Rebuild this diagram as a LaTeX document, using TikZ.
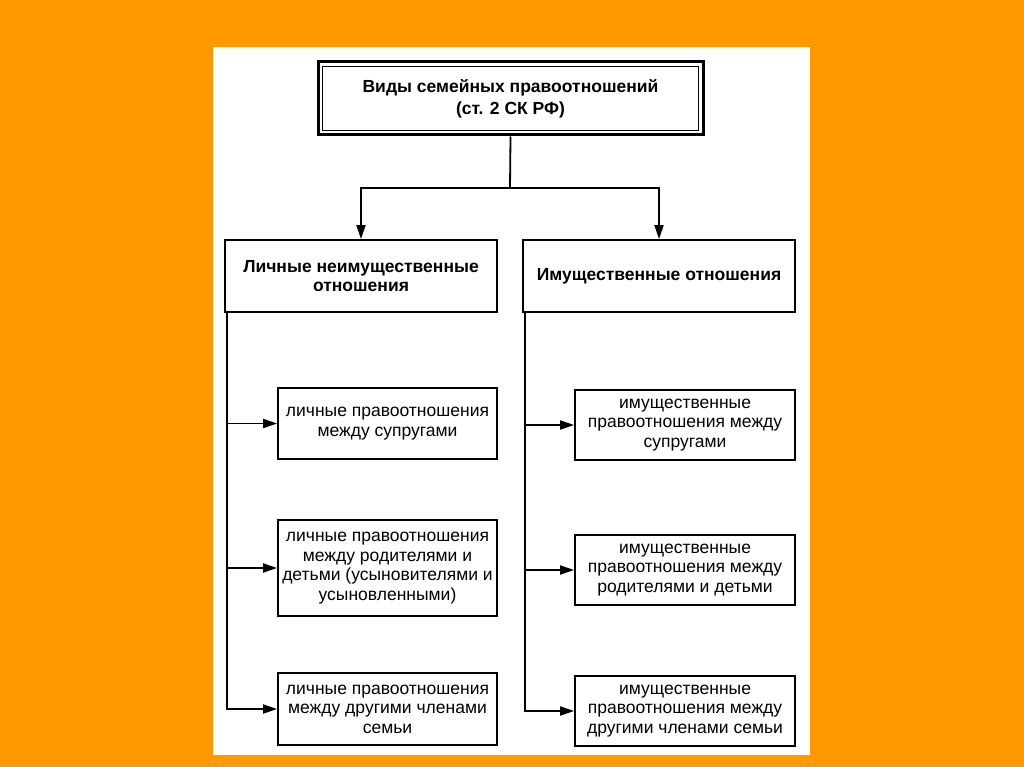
\documentclass[tikz,border=0pt]{standalone}
\usepackage{fontspec}
\setmainfont{Liberation Sans}
\usetikzlibrary{arrows.meta}
\definecolor{pageorange}{RGB}{254,153,0}
\tikzset{
  box/.style={draw, line width=1.8pt, align=center, inner sep=2pt,
    font=\fontsize{17.5}{19.5}\selectfont},
  headbox/.style={box, font=\bfseries\fontsize{17.5}{19}\selectfont},
  link/.style={line width=1.8pt}
}
\begin{document}
\begin{tikzpicture}[x=1pt, y=-1pt, >={Triangle[length=14pt,width=9pt]}]
            % page and white sheet
            \fill[pageorange] (0,0) rectangle (1024,767);
            \fill[white] (213,47) rectangle (810,755);
            % top box with double frame
            \node[headbox, font=\bfseries\fontsize{17.5}{22}\selectfont, line width=3pt,
              minimum width=385pt, minimum height=73pt] (top) at (510.5,98.5)
              {Виды семейных правоотношений\\(ст. 2 СК РФ)};
            \draw[line width=1.3pt] ([shift={(6pt,-6pt)}]top.north west) rectangle ([shift={(-6pt,6pt)}]top.south east);
            % two groups
            \node[headbox, minimum width=272pt, minimum height=72pt] (lft) at (361,276)
              {Личные неимущественные\\отношения};
            \node[headbox, minimum width=272pt, minimum height=72pt] (rgt) at (659,276)
              {Имущественные отношения};
            % personal relations
            \node[box, minimum width=219pt, minimum height=71pt] (l1) at (387.5,423.5)
              {личные правоотношения\\между супругами};
            \node[box, minimum width=219pt, minimum height=96pt] (l2) at (387.5,568)
              {личные правоотношения\\между родителями и\\детьми (усыновителями и\\усыновленными)};
            \node[box, minimum width=219pt, minimum height=72pt] (l3) at (387.5,709)
              {личные правоотношения\\между другими членами\\семьи};
            % property relations
            \node[box, minimum width=220pt, minimum height=70pt] (r1) at (685,425)
              {имущественные\\правоотношения между\\супругами};
            \node[box, minimum width=220pt, minimum height=70pt] (r2) at (685,570)
              {имущественные\\правоотношения между\\родителями и детьми};
            \node[box, minimum width=220pt, minimum height=70pt] (r3) at (685,711)
              {имущественные\\правоотношения между\\другими членами семьи};
            % connectors
            \coordinate (fork) at (510,188);
            \draw[link] (top.south) -- (fork);
            \draw[link,->] (fork) -| (lft.north);
            \draw[link,->] (fork) -| (rgt.north);
            \coordinate (ltrunk) at ([xshift=3pt]lft.south west);
            \coordinate (rtrunk) at ([xshift=3pt]rgt.south west);
            \draw[link,->] (ltrunk) |- (l3.west);
            \draw[link,->] (rtrunk) |- (r3.west);
            \foreach \b in {l1,l2} \draw[link,->] (ltrunk |- \b.west) -- (\b.west);
            \foreach \b in {r1,r2} \draw[link,->] (rtrunk |- \b.west) -- (\b.west);
\end{tikzpicture}
\end{document}
